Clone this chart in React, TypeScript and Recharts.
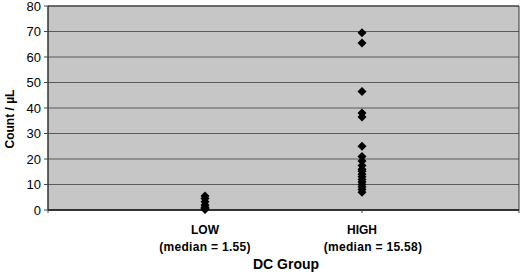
import { ScatterChart, Scatter, XAxis, YAxis, CartesianGrid, ReferenceArea, Label } from "recharts";

const categories = ["LOW", "HIGH"];
const medians = ["(median = 1.55)", "(median = 15.58)"];
const yTicks = [0, 10, 20, 30, 40, 50, 60, 70, 80];

// counts per µL
const lowValues = [5.5, 4.5, 3.2, 2.0, 1.1, 0.8, 0.5, 0.2];
const highValues = [69.5, 65.5, 46.5, 38, 36.5, 25, 21, 19.2, 17.5, 16, 15.2, 14, 13, 12, 11, 10, 9, 8, 7];

const lowData = lowValues.map((v) => ({ x: 1, y: v }));
const highData = highValues.map((v) => ({ x: 2, y: v }));

const FONT = "'Liberation Sans', Arial, sans-serif";

const Diamond = (props: any) => {
  const { cx, cy } = props;
  if (cx == null || cy == null) return null;
  const r = 4.5;
  return <polygon points={`${cx},${cy - r} ${cx + r},${cy} ${cx},${cy + r} ${cx - r},${cy}`} fill="#000" />;
};

const CategoryTick = (props: any) => {
  const { x, y, payload } = props;
  const i = payload.value - 1;
  if (i < 0 || i >= categories.length) return null;
  // the second line of HIGH sits a little right of centre in the original
  const shift = i === 1 ? 11 : 0;
  return (
    <g>
      <text x={x} y={y + 19} textAnchor="middle" fontFamily={FONT} fontWeight="bold" fontSize={12} fill="#000">
        {categories[i]}
      </text>
      <text x={x + shift} y={y + 36} textAnchor="middle" fontFamily={FONT} fontWeight="bold" fontSize={12} fill="#000" letterSpacing={0.3}>
        {medians[i]}
      </text>
    </g>
  );
};

export default function App() {
  return (
    <div style={{ position: "fixed", left: 0, top: 0, width: 520, height: 273, background: "#fff" }}>
      <ScatterChart width={520} height={273} margin={{ top: 6, right: 1, bottom: 0, left: 0 }}>
        <CartesianGrid vertical={false} fill="#c6c6c6" stroke="#5a5a5a" strokeWidth={1} />
        <XAxis
          type="number"
          dataKey="x"
          domain={[0, 3]}
          ticks={[0, 1, 2, 3]}
          interval={0}
          height={63}
          tickSize={3}
          tick={<CategoryTick />}
          axisLine={{ stroke: "#222", strokeWidth: 1.5 }}
          tickLine={{ stroke: "#444" }}
        >
          <Label
            content={() => (
              <text x={286} y={269} textAnchor="middle" fontFamily={FONT} fontWeight="bold" fontSize={14} fill="#000">
                DC Group
              </text>
            )}
          />
        </XAxis>
        <YAxis
          type="number"
          dataKey="y"
          domain={[0, 80]}
          ticks={yTicks}
          interval={0}
          width={48}
          tickSize={4}
          tickMargin={3}
          tick={{ fontFamily: FONT, fontSize: 13, fill: "#000" }}
          axisLine={{ stroke: "#333" }}
          tickLine={{ stroke: "#444" }}
        >
          <Label
            content={() => (
              <text
                x={14}
                y={119}
                transform="rotate(-90 14 119)"
                textAnchor="middle"
                fontFamily={FONT}
                fontWeight="bold"
                fontSize={12}
                fill="#000"
              >
                Count / µL
              </text>
            )}
          />
        </YAxis>
        <ReferenceArea x1={0} x2={3} y1={0} y2={80} fill="none" stroke="#333" strokeWidth={1} />
        <Scatter data={lowData} shape={<Diamond />} isAnimationActive={false} />
        <Scatter data={highData} shape={<Diamond />} isAnimationActive={false} />
      </ScatterChart>
    </div>
  );
}
